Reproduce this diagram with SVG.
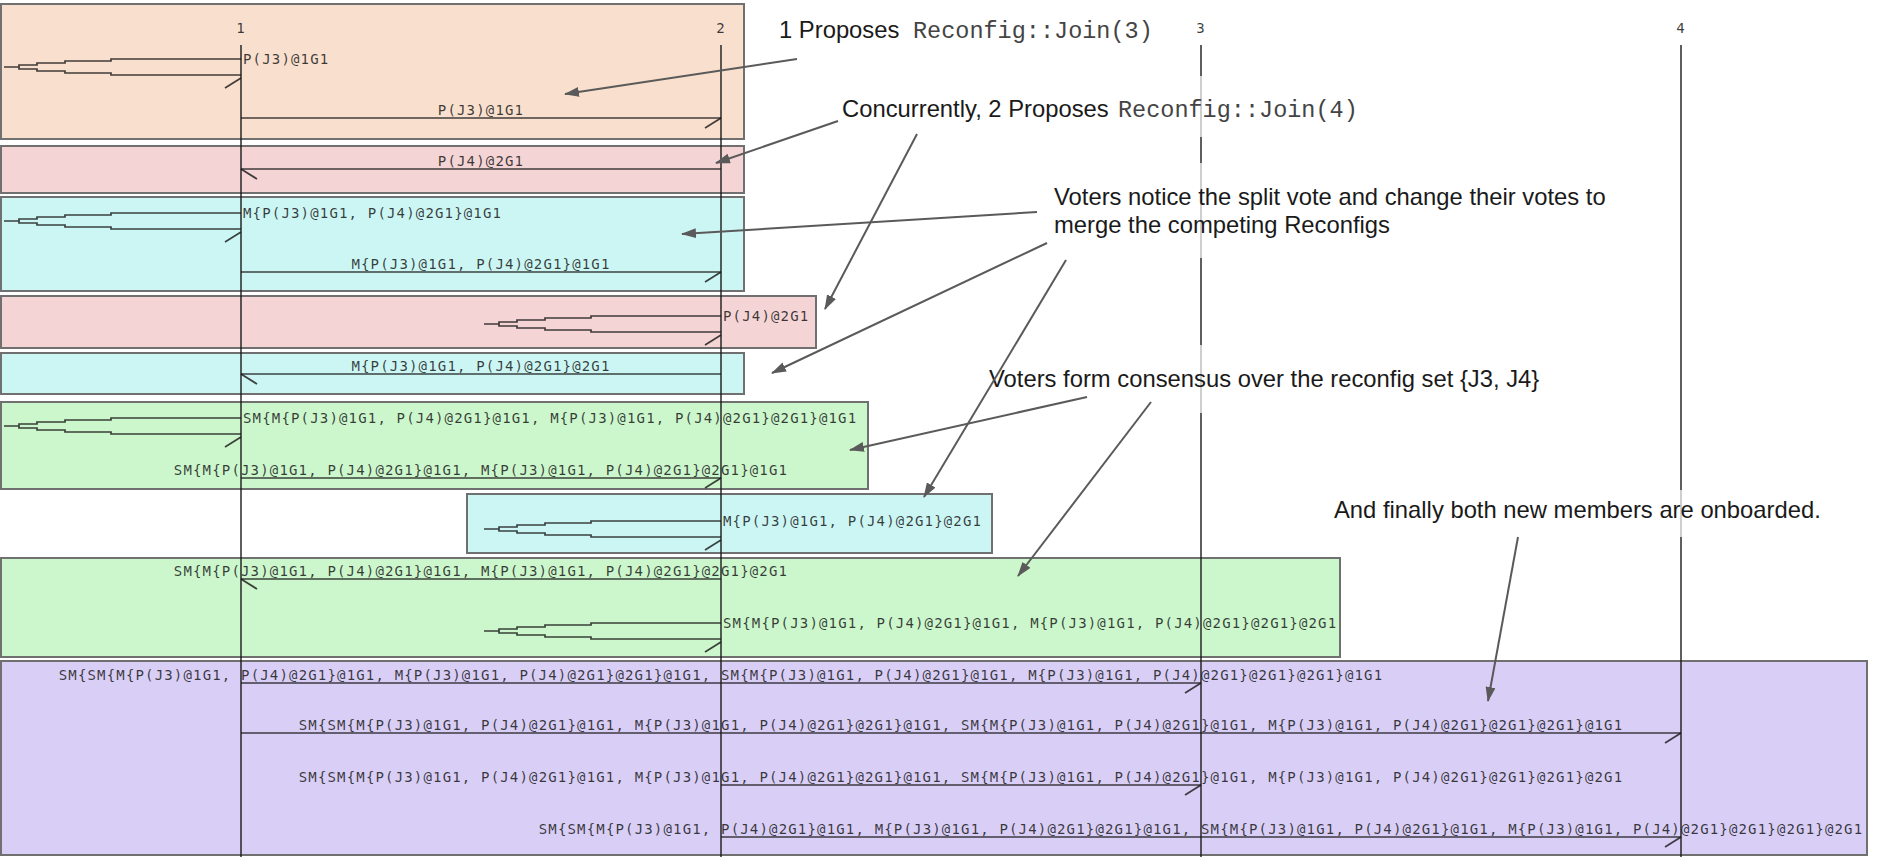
<svg xmlns="http://www.w3.org/2000/svg" width="1878" height="857" viewBox="0 0 1878 857">
<style>
.bx{stroke:#707070;stroke-width:2}
.peach{fill:#F9DFCD}.pink{fill:#F4D4D4}.cyan{fill:#CCF6F4}.green{fill:#CCF6CC}.purple{fill:#D8CEF6}
.ll{stroke:#1a1a1a;stroke-opacity:.82;stroke-width:1.7;fill:none}
.ar{stroke:#1a1a1a;stroke-opacity:.82;stroke-width:1.7;fill:none}
.t{font-family:"DejaVu Sans Mono",monospace;font-size:14px;letter-spacing:1.17px;fill:#1a1a1a;fill-opacity:.85}
.c{text-anchor:middle}
.ann{font-family:"Liberation Sans",Arial,sans-serif;font-size:23.8px;fill:#1a1a1a}
.code{font-family:"Liberation Mono","Courier New",monospace;font-size:23.5px;fill:#444}
.tb{fill:#fff;fill-opacity:.7}
.aa{stroke:#5a5a5a;stroke-width:2;fill:none;marker-end:url(#ah)}
</style>
<defs>
<marker id="hR" markerWidth="20" markerHeight="20" refX="0" refY="0" orient="auto" markerUnits="userSpaceOnUse" overflow="visible"><path d="M-16,10 L0,0" fill="none" stroke="#1a1a1a" stroke-opacity=".82" stroke-width="1.7"/></marker>
<marker id="hL" markerWidth="20" markerHeight="20" refX="0" refY="0" orient="auto" markerUnits="userSpaceOnUse" overflow="visible"><path d="M-16,-10 L0,0" fill="none" stroke="#1a1a1a" stroke-opacity=".82" stroke-width="1.7"/></marker>
<marker id="ah" markerWidth="15" markerHeight="10" refX="14" refY="5" orient="auto" markerUnits="userSpaceOnUse"><path d="M0,0 L15,5 L0,10 z" fill="#5a5a5a"/></marker>
</defs>
<rect width="1878" height="857" fill="#fff"/>

<g id="boxes">
<g id="box1"><rect class="bx peach" x="1" y="4" width="743" height="135"/></g>
<g id="box2"><rect class="bx pink" x="1" y="146" width="743" height="47"/></g>
<g id="box3"><rect class="bx cyan" x="1" y="197" width="743" height="94"/></g>
<g id="box4"><rect class="bx pink" x="1" y="296" width="815" height="52"/></g>
<g id="box5"><rect class="bx cyan" x="1" y="353" width="743" height="41"/></g>
<g id="box6"><rect class="bx green" x="1" y="402" width="867" height="87"/></g>
<g id="box7"><rect class="bx cyan" x="467" y="494" width="525" height="59"/></g>
<g id="box8"><rect class="bx green" x="1" y="558" width="1339" height="99"/></g>
<g id="box9"><rect class="bx purple" x="1" y="661" width="1866" height="194"/></g>
</g>

<g id="entity1"><text class="t c" x="241" y="33">1</text><path class="ll" d="M241,45 V857"/></g>
<g id="entity2"><text class="t c" x="721" y="33">2</text><path class="ll" d="M721,45 V857"/></g>
<g id="entity3"><text class="t c" x="1201" y="33">3</text><path class="ll" d="M1201,45 V857"/></g>
<g id="entity4"><text class="t c" x="1681" y="33">4</text><path class="ll" d="M1681,45 V857"/></g>

<g id="connectors">
<path class="ar" d="M241,59 H111 V61 H65 V63 H37 V65 H19 V67 H4 M19,67 V69 H37 V71 H65 V73 H111 V75 H241 M225,88 L241,78"/>
<path class="ar" d="M241,118 H721" marker-end="url(#hR)"/>
<path class="ar" d="M721,169 H241" marker-end="url(#hL)"/>
<path class="ar" d="M241,213 H111 V215 H65 V217 H37 V219 H19 V221 H4 M19,221 V223 H37 V225 H65 V227 H111 V229 H241 M225,242 L241,232"/>
<path class="ar" d="M241,272 H721" marker-end="url(#hR)"/>
<path class="ar" d="M721,316 H591 V318 H545 V320 H517 V322 H499 V324 H484 M499,324 V326 H517 V328 H545 V330 H591 V332 H721 M705,345 L721,335"/>
<path class="ar" d="M721,374 H241" marker-end="url(#hL)"/>
<path class="ar" d="M241,418 H111 V420 H65 V422 H37 V424 H19 V426 H4 M19,426 V428 H37 V430 H65 V432 H111 V434 H241 M225,447 L241,437"/>
<path class="ar" d="M241,478 H721" marker-end="url(#hR)"/>
<path class="ar" d="M721,521 H591 V523 H545 V525 H517 V527 H499 V529 H484 M499,529 V531 H517 V533 H545 V535 H591 V537 H721 M705,550 L721,540"/>
<path class="ar" d="M721,579 H241" marker-end="url(#hL)"/>
<path class="ar" d="M721,623 H591 V625 H545 V627 H517 V629 H499 V631 H484 M499,631 V633 H517 V635 H545 V637 H591 V639 H721 M705,652 L721,642"/>
<path class="ar" d="M241,683 H1201" marker-end="url(#hR)"/>
<path class="ar" d="M241,733 H1681" marker-end="url(#hR)"/>
<path class="ar" d="M721,785 H1201" marker-end="url(#hR)"/>
<path class="ar" d="M721,837 H1681" marker-end="url(#hR)"/>
</g>

<g id="labels">
<text class="t" x="243" y="63.5">P(J3)@1G1</text>
<text class="t c" x="481" y="114.5">P(J3)@1G1</text>
<text class="t c" x="481" y="165.5">P(J4)@2G1</text>
<text class="t" x="243" y="217.5">M{P(J3)@1G1, P(J4)@2G1}@1G1</text>
<text class="t c" x="481" y="268.5">M{P(J3)@1G1, P(J4)@2G1}@1G1</text>
<text class="t" x="723" y="320.5">P(J4)@2G1</text>
<text class="t c" x="481" y="370.5">M{P(J3)@1G1, P(J4)@2G1}@2G1</text>
<text class="t" x="243" y="422.5">SM{M{P(J3)@1G1, P(J4)@2G1}@1G1, M{P(J3)@1G1, P(J4)@2G1}@2G1}@1G1</text>
<text class="t c" x="481" y="474.5">SM{M{P(J3)@1G1, P(J4)@2G1}@1G1, M{P(J3)@1G1, P(J4)@2G1}@2G1}@1G1</text>
<text class="t" x="723" y="525.5">M{P(J3)@1G1, P(J4)@2G1}@2G1</text>
<text class="t c" x="481" y="575.5">SM{M{P(J3)@1G1, P(J4)@2G1}@1G1, M{P(J3)@1G1, P(J4)@2G1}@2G1}@2G1</text>
<text class="t" x="723" y="627.5">SM{M{P(J3)@1G1, P(J4)@2G1}@1G1, M{P(J3)@1G1, P(J4)@2G1}@2G1}@2G1</text>
<text class="t c" x="721" y="679.5">SM{SM{M{P(J3)@1G1, P(J4)@2G1}@1G1, M{P(J3)@1G1, P(J4)@2G1}@2G1}@1G1, SM{M{P(J3)@1G1, P(J4)@2G1}@1G1, M{P(J3)@1G1, P(J4)@2G1}@2G1}@2G1}@1G1</text>
<text class="t c" x="961" y="729.5">SM{SM{M{P(J3)@1G1, P(J4)@2G1}@1G1, M{P(J3)@1G1, P(J4)@2G1}@2G1}@1G1, SM{M{P(J3)@1G1, P(J4)@2G1}@1G1, M{P(J3)@1G1, P(J4)@2G1}@2G1}@2G1}@1G1</text>
<text class="t c" x="961" y="781.5">SM{SM{M{P(J3)@1G1, P(J4)@2G1}@1G1, M{P(J3)@1G1, P(J4)@2G1}@2G1}@1G1, SM{M{P(J3)@1G1, P(J4)@2G1}@1G1, M{P(J3)@1G1, P(J4)@2G1}@2G1}@2G1}@2G1</text>
<text class="t c" x="1201" y="833.5">SM{SM{M{P(J3)@1G1, P(J4)@2G1}@1G1, M{P(J3)@1G1, P(J4)@2G1}@2G1}@1G1, SM{M{P(J3)@1G1, P(J4)@2G1}@1G1, M{P(J3)@1G1, P(J4)@2G1}@2G1}@2G1}@2G1</text>
</g>

<g id="note1"><text x="779" y="38"><tspan class="ann">1 Proposes</tspan><tspan class="code" x="913">Reconfig::Join(3)</tspan></text></g>
<g id="note2"><rect class="tb" x="835" y="76" width="530" height="61"/><text x="842" y="116.5"><tspan class="ann">Concurrently, 2 Proposes</tspan><tspan class="code" x="1118">Reconfig::Join(4)</tspan></text></g>
<g id="note3"><rect class="tb" x="1045" y="163" width="580" height="95"/><text class="ann" x="1054" y="205">Voters notice the split vote and change their votes to</text><text class="ann" x="1054" y="233">merge the competing Reconfigs</text></g>
<g id="note4"><rect class="tb" x="980" y="345" width="570" height="68"/><text class="ann" x="989" y="386.5">Voters form consensus over the reconfig set {J3, J4}</text></g>
<g id="note5"><rect class="tb" x="1325" y="490" width="510" height="47"/><text class="ann" x="1334" y="518">And finally both new members are onboarded.</text></g>

<g id="note-arrows">
<path class="aa" d="M797,59 L565,94"/>
<path class="aa" d="M838,121 L716,163"/>
<path class="aa" d="M917,134 L825,309"/>
<path class="aa" d="M1037,212 L682,234"/>
<path class="aa" d="M1047,243 L772,373"/>
<path class="aa" d="M1066,260 L924,497"/>
<path class="aa" d="M1087,397 L850,450"/>
<path class="aa" d="M1151,402 L1018,576"/>
<path class="aa" d="M1518,537 L1488,701"/>
</g>
</svg>
